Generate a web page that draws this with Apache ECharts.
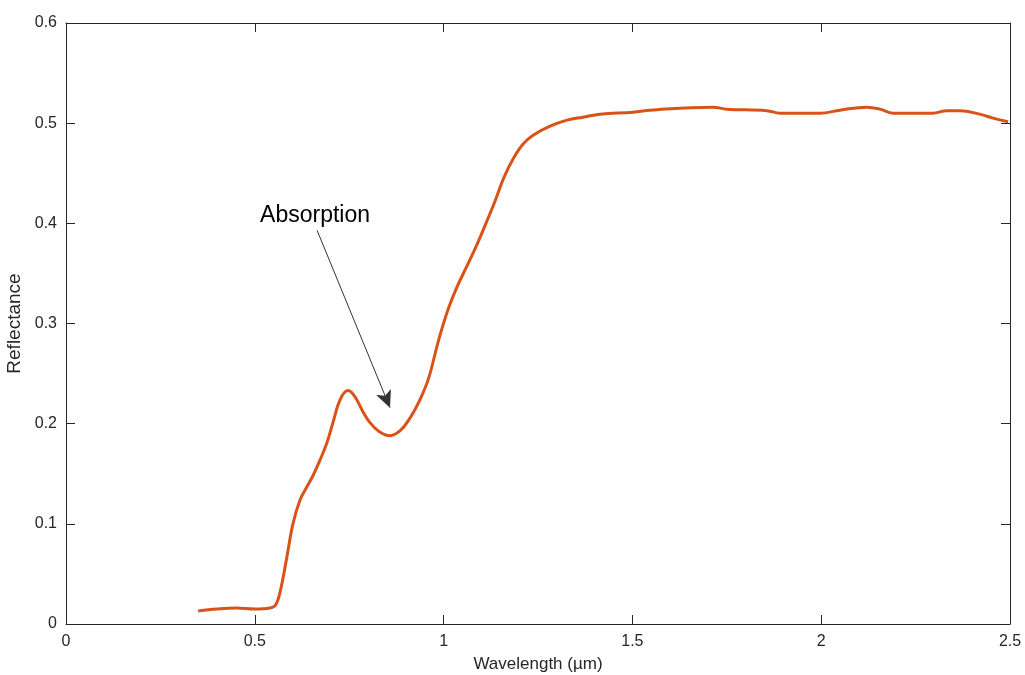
<!DOCTYPE html>
<html>
<head>
<meta charset="utf-8">
<script src="https://cdn.jsdelivr.net/npm/echarts@6/dist/echarts.min.js"></script>
<style>html,body{margin:0;padding:0;background:#fff;}#c{width:1025px;height:675px;}</style>
</head>
<body>
<div id="c"></div>
<script>
const wavelength = [0.35,0.40,0.45,0.50,0.54,0.555,0.567,0.585,0.601,0.62,0.638,0.654,0.673,0.691,0.707,0.726,0.747,0.765,0.785,0.805,0.83,0.858,0.885,0.91,0.935,0.96,0.985,1.01,1.035,1.06,1.085,1.11,1.135,1.16,1.185,1.21,1.237,1.282,1.327,1.369,1.414,1.502,1.547,1.713,1.75,1.856,1.891,1.997,2.05,2.121,2.156,2.19,2.296,2.333,2.368,2.42,2.455,2.495];
const reflectance = [0.013,0.015,0.016,0.015,0.016,0.019,0.032,0.067,0.10,0.124,0.137,0.148,0.164,0.181,0.201,0.224,0.233,0.227,0.213,0.201,0.192,0.188,0.193,0.205,0.222,0.245,0.281,0.312,0.336,0.356,0.376,0.398,0.421,0.446,0.465,0.479,0.488,0.497,0.503,0.506,0.509,0.511,0.513,0.516,0.514,0.5125,0.51,0.51,0.513,0.516,0.514,0.51,0.51,0.5125,0.5125,0.509,0.505,0.5015];
const xTicks = [0,0.5,1,1.5,2,2.5];
const yTicks = [0,0.1,0.2,0.3,0.4,0.5,0.6];
const annotationText = 'Absorption';
const arrowFrom = [0.665, 0.393];
const arrowTo = [0.858, 0.216];
const textAt = [0.514, 0.408];

const chart = echarts.init(document.getElementById('c'));
const font = 'Liberation Sans, Arial, Helvetica, sans-serif';
const axisCol = '#262626';
function axisBase() {
  return {
    axisLine: {show: true, onZero: false, lineStyle: {color: axisCol, width: 1}},
    axisTick: {show: true, inside: true, length: 9, lineStyle: {color: axisCol}},
    splitLine: {show: false}
  };
}
chart.setOption({
  animation: false,
  backgroundColor: '#fff',
  grid: {left: 66, right: 15, top: 23, bottom: 51, show: false, containLabel: false, outerBoundsMode: 'none'},
  xAxis: [
    Object.assign(axisBase(), {
      type: 'value', min: xTicks[0], max: xTicks[xTicks.length - 1], interval: 0.5, position: 'bottom',
      name: 'Wavelength (µm)', nameLocation: 'middle', nameGap: 32,
      nameTextStyle: {color: axisCol, fontSize: 17, fontFamily: font},
      axisLabel: {color: axisCol, fontSize: 16, fontFamily: font, margin: 10}
    }),
    Object.assign(axisBase(), {
      type: 'value', min: xTicks[0], max: xTicks[xTicks.length - 1], interval: 0.5, position: 'top',
      axisLabel: {show: false}
    })
  ],
  yAxis: [
    Object.assign(axisBase(), {
      type: 'value', min: yTicks[0], max: yTicks[yTicks.length - 1], interval: 0.1, position: 'left',
      name: 'Reflectance', nameLocation: 'middle', nameGap: 35,
      nameTextStyle: {color: axisCol, fontSize: 19, fontFamily: font},
      axisLabel: {color: axisCol, fontSize: 16, fontFamily: font, margin: 9}
    }),
    Object.assign(axisBase(), {
      type: 'value', min: yTicks[0], max: yTicks[yTicks.length - 1], interval: 0.1, position: 'right',
      axisLabel: {show: false}
    })
  ],
  series: [{
    type: 'line',
    xAxisIndex: 0, yAxisIndex: 0,
    data: wavelength.map((w, i) => [w, reflectance[i]]),
    showSymbol: false,
    smooth: 0.4,
    lineStyle: {color: '#D95319', width: 3},
    markLine: {
      silent: true,
      symbol: ['none', 'arrow'],
      symbolSize: 14,
      lineStyle: {color: '#333', width: 1, type: 'solid'},
      label: {show: false},
      data: [[
        {coord: arrowFrom, symbol: 'none'},
        {coord: arrowTo, symbol: 'arrow', symbolSize: [12, 17], itemStyle: {color: '#000'}, lineStyle: {color: '#333'}}
      ]]
    },
    markPoint: {
      silent: true,
      symbol: 'circle', symbolSize: 0,
      label: {
        show: true, formatter: annotationText, position: 'right', distance: 0,
        color: '#000', fontSize: 23, fontFamily: font
      },
      data: [{coord: textAt}]
    }
  }]
});
</script>
</body>
</html>
